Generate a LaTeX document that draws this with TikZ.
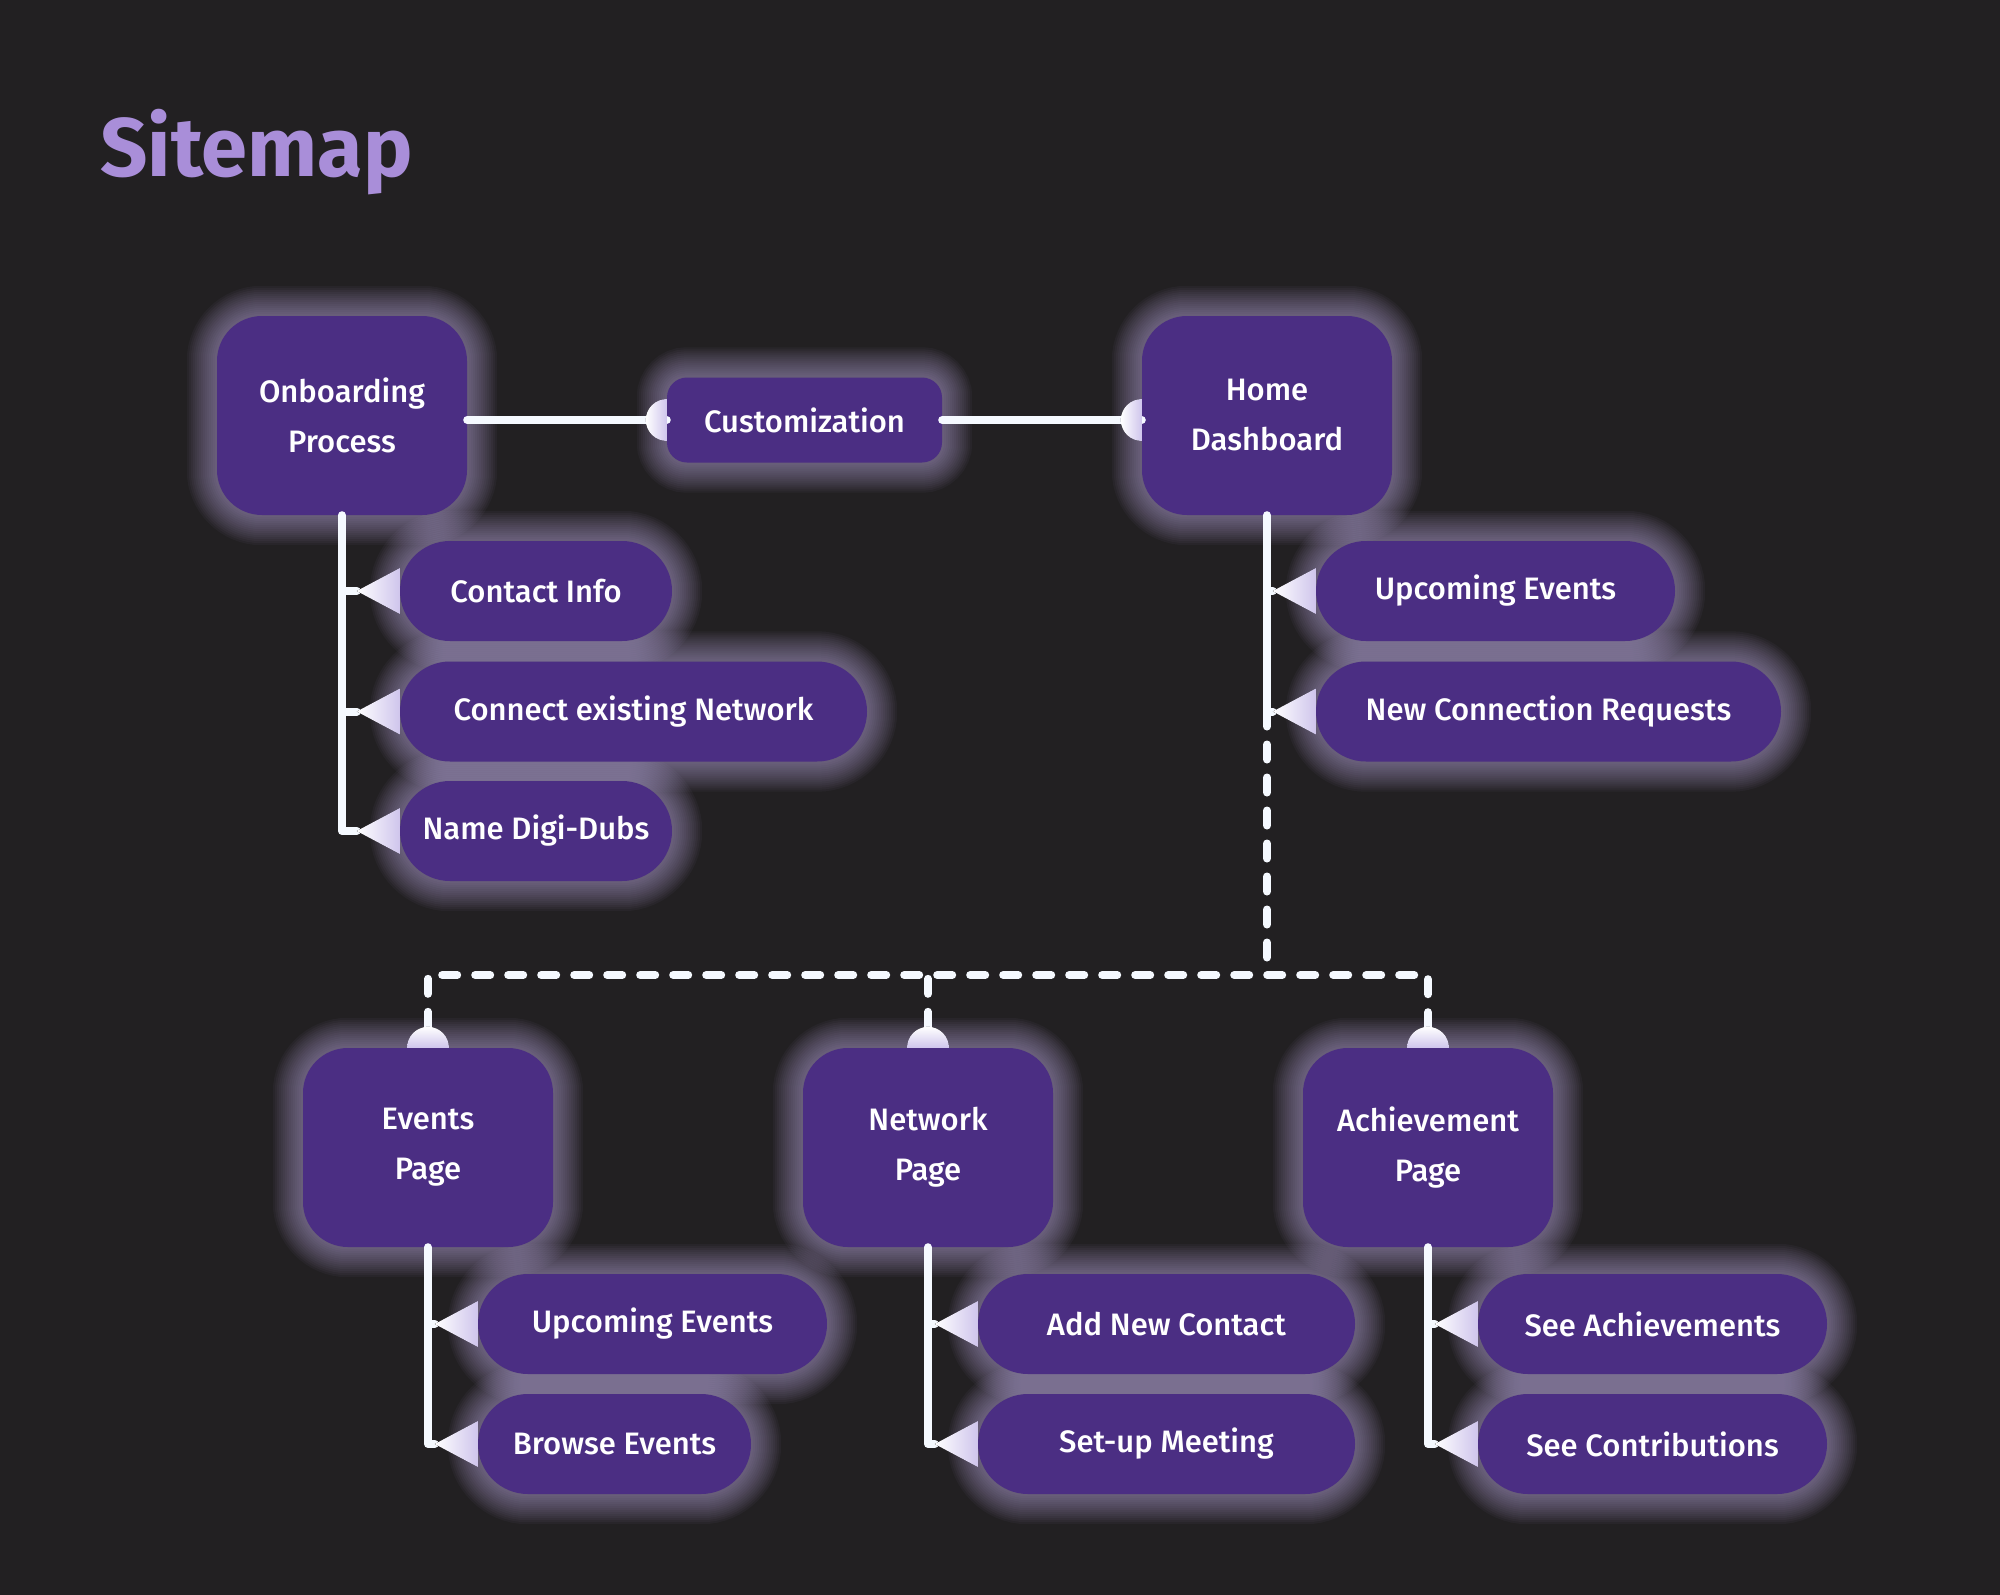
\documentclass[tikz,border=0pt]{standalone}
\usepackage{fontspec}
\setmainfont{Fira Sans}
\newfontfamily\medfont{Fira Sans Medium}
\usetikzlibrary{backgrounds,calc}
\definecolor{bgc}{HTML}{222022}
\definecolor{boxc}{HTML}{4B2E83}
\definecolor{titlec}{HTML}{A98ED9}
\definecolor{linec}{HTML}{F5F9FF}
\definecolor{lavc}{HTML}{CFC5EC}
\definecolor{glowc}{HTML}{C8B8F0}
\tikzset{
  base/.style={fill=boxc, text=white, inner sep=0pt, align=center,
    font=\medfont\fontsize{31}{50}\selectfont},
  bigbox/.style={base, minimum width=250pt, minimum height=199pt, rounded corners=45pt},
  pill/.style={base, minimum height=100pt, rounded corners=50pt},
  custbox/.style={base, minimum width=275pt, minimum height=85pt, rounded corners=20pt},
  conn/.style={draw=linec, line width=8pt, line cap=round, line join=round},
  dashconn/.style={conn, dash pattern=on 15pt off 18pt},
  tri/.style={left color=white, right color=lavc},
  domeh/.style={left color=white, right color=lavc},
  domev/.style={top color=white, bottom color=lavc},
}
\begin{document}
\begin{tikzpicture}[x=1pt,y=1pt]
\begin{scope}[on background layer]
  \fill[bgc] (0,0) rectangle (2000,-1595);
\end{scope}
\useasboundingbox (0,0) rectangle (2000,-1595);

\node[anchor=base west, text=titlec, inner sep=0pt,
  font=\bfseries\fontsize{83}{83}\selectfont] (title) at (100,-176) {Sitemap};

% main boxes
\node[bigbox] (onb) at (342,-415.5) {Onboarding\\Process};
\node[bigbox] (home) at (1267,-415.5) {Home\\Dashboard};
\node[custbox] (cust) at (804.5,-420) {Customization};
\node[bigbox] (ev) at (428,-1147.5) {Events\\Page};
\node[bigbox] (net) at (928,-1147.5) {Network\\Page};
\node[bigbox] (ach) at (1428,-1147.5) {Achievement\\Page};

% pills
\node[pill, minimum width=272pt] (ci) at (536,-591) {Contact Info};
\node[pill, minimum width=467pt] (cen) at (633.5,-711.5) {Connect existing Network};
\node[pill, minimum width=272pt] (ndd) at (536,-831) {Name Digi-Dubs};
\node[pill, minimum width=359pt] (hue) at (1495.5,-591) {Upcoming Events};
\node[pill, minimum width=465pt] (ncr) at (1548.5,-711.5) {New Connection Requests};
\node[pill, minimum width=349pt] (eue) at (652.5,-1324) {Upcoming Events};
\node[pill, minimum width=273pt] (ebe) at (614.5,-1444) {Browse Events};
\node[pill, minimum width=377pt] (nan) at (1166.5,-1324) {Add New Contact};
\node[pill, minimum width=377pt] (nsm) at (1166.5,-1444) {Set-up Meeting};
\node[pill, minimum width=349pt] (asa) at (1652.5,-1324) {See Achievements};
\node[pill, minimum width=349pt] (asc) at (1652.5,-1444) {See Contributions};

% glows
\begin{scope}[on background layer]
\foreach \n/\r in {onb/45,home/45,cust/20,ev/45,net/45,ach/45,ci/50,cen/50,ndd/50,hue/50,ncr/50,eue/50,ebe/50,nan/50,nsm/50,asa/50,asc/50}{
  \foreach \k [evaluate=\k as \w using 4*\k] in {1,...,15}{
    \draw[glowc, line width=\w pt, draw opacity=0.04, rounded corners=\r pt]
      (\n.south west) rectangle (\n.north east);
  }
}
\end{scope}

% helper coordinates
\foreach \p in {ci,cen,ndd,hue,ncr,eue,ebe,nan,nsm,asa,asc}{
  \coordinate (\p-t) at ([xshift=-43pt]\p.west);
}
\foreach \b in {ev,net,ach}{
  \coordinate (\b-d) at ([yshift=21pt]\b.north);
}
\coordinate (jy) at (0,-975);

% top connectors
\draw[conn] (onb.east |- cust.west) -- (cust.west);
\draw[conn] (cust.east) -- (home.west |- cust.east);
\fill[domeh] (cust.west) ++(0,21pt) arc[start angle=90, end angle=270, radius=21pt] -- cycle;
\fill[domeh] (home.west |- cust.west) ++(0,21pt) arc[start angle=90, end angle=270, radius=21pt] -- cycle;

% tree connectors
\draw[conn] (onb.south) |- (ndd-t);
\draw[conn] (onb.south |- ci-t) -- (ci-t);
\draw[conn] (onb.south |- cen-t) -- (cen-t);
\draw[conn] (home.south) |- (ncr-t);
\draw[conn] (home.south |- hue-t) -- (hue-t);
\draw[conn] (ev.south) |- (ebe-t);
\draw[conn] (ev.south |- eue-t) -- (eue-t);
\draw[conn] (net.south) |- (nsm-t);
\draw[conn] (net.south |- nan-t) -- (nan-t);
\draw[conn] (ach.south) |- (asc-t);
\draw[conn] (ach.south |- asa-t) -- (asa-t);

% dashed connectors
\draw[dashconn] (home.south |- ncr-t) -- (home.south |- jy);
\draw[dashconn] (ev-d) -- (ev-d |- jy) -- (ach-d |- jy) -- (ach-d);
\draw[dashconn] (net-d) -- (net-d |- jy);
\foreach \b in {ev,net,ach}{
  \fill[domev] ([xshift=-21pt]\b.north) arc[start angle=180, end angle=0, radius=21pt] -- cycle;
}

% triangles
\foreach \p in {ci,cen,ndd,hue,ncr,eue,ebe,nan,nsm,asa,asc}{
  \fill[tri] (\p-t) -- ([yshift=23pt]\p.west) -- ([yshift=-23pt]\p.west) -- cycle;
}
\end{tikzpicture}
\end{document}
